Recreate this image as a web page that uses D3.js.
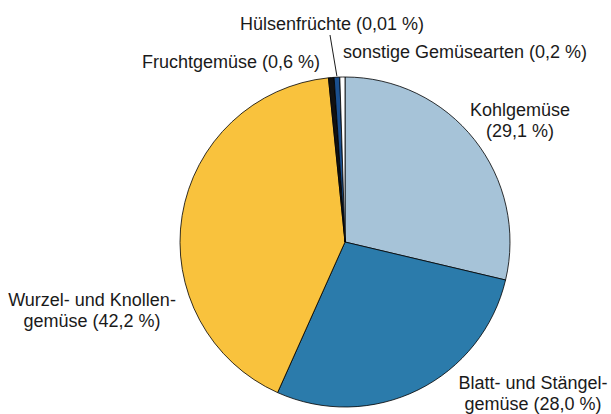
<!DOCTYPE html>
<html>
<head>
<meta charset="utf-8">
<script src="https://cdn.jsdelivr.net/npm/d3@7"></script>
<style>
  body { margin: 0; background: #fff; }
  text { font-family: Arial, "Liberation Sans", sans-serif; font-size: 18px; fill: #1a1a1a; }
</style>
</head>
<body>
<div class="chart"></div>
<script>
// ----Data----
const categories = ["Kohlgemüse", "Blatt- und Stängelgemüse", "Wurzel- und Knollengemüse",
                    "Fruchtgemüse", "Hülsenfrüchte", "sonstige Gemüsearten"];
// shares as drawn in the picture (the tiny slices are shown wider than their value)
const shares = [28.7, 28.0, 41.7, 0.55, 0.55, 0.5];
const colors = ["#a6c3d8", "#2b7bab", "#f9c23d", "#111111", "#1a4f8e", "#ffffff"];
// label lines, per slice
const labels = [
  ["Kohlgemüse", "(29,1 %)"],
  ["Blatt- und Stängel-", "gemüse (28,0 %)"],
  ["Wurzel- und Knollen-", "gemüse (42,2 %)"],
  ["Fruchtgemüse (0,6 %)"],
  ["Hülsenfrüchte (0,01 %)"],
  ["sonstige Gemüsearten (0,2 %)"]
];

const width = 611, height = 414;
const cx = 345, cy = 242, r = 165;

const svg = d3.select(".chart").append("svg")
    .attr("width", width)
    .attr("height", height);

const g = svg.append("g")
    .attr("transform", `translate(${cx},${cy})`);

const pie = d3.pie().sort(null).value(d => d);
const arc = d3.arc().innerRadius(0).outerRadius(r);
const arcs = pie(shares);

g.selectAll("path")
  .data(arcs)
  .join("path")
  .attr("d", arc)
  .attr("fill", (d, i) => colors[i])
  .attr("stroke", "#000")
  .attr("stroke-width", 0.8)
  .attr("stroke-linejoin", "round");

// label positions (anchor, x, baseline of first line)
const labelPos = [
  {x: 520, y: 116, anchor: "middle"},
  {x: 533, y: 389, anchor: "middle"},
  {x: 92, y: 306, anchor: "middle"},
  {x: 231, y: 68, anchor: "middle"},
  {x: 332, y: 30, anchor: "middle"},
  {x: 343, y: 58, anchor: "start"}
];

labels.forEach((lines, i) => {
  const p = labelPos[i];
  const t = svg.append("text")
    .attr("text-anchor", p.anchor)
    .attr("x", p.x)
    .attr("y", p.y);
  lines.forEach((s, j) => {
    t.append("tspan")
      .attr("x", p.x)
      .attr("dy", j === 0 ? 0 : 21)
      .text(s);
  });
});

// leader line for Hülsenfrüchte, pointing at the edge of its slice
const hs = arcs[4];
const mid = (hs.startAngle + hs.endAngle) / 2;
svg.append("line")
  .attr("x1", 330).attr("y1", 35)
  .attr("x2", cx + Math.sin(mid) * (r + 1))
  .attr("y2", cy - Math.cos(mid) * (r + 1))
  .attr("stroke", "#000")
  .attr("stroke-width", 0.9);
</script>
</body>
</html>
